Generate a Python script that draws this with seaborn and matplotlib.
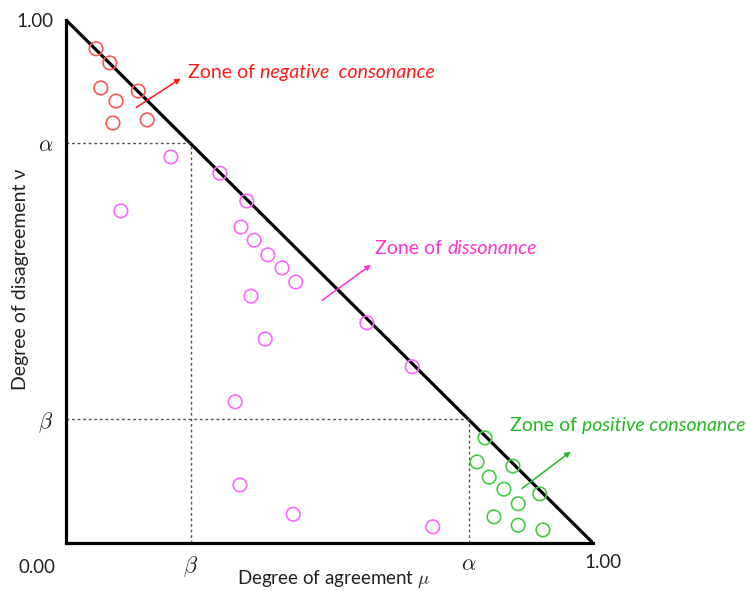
import matplotlib.pyplot as plt
import matplotlib.transforms as mtransforms
import seaborn as sns
import pandas as pd

plt.switch_backend("agg")

# thresholds
alpha = 0.765
beta = 0.237

# points (agreement mu, disagreement nu)
neg_mu = [0.057, 0.083, 0.066, 0.095, 0.137, 0.089, 0.154]
neg_nu = [0.945, 0.918, 0.870, 0.845, 0.864, 0.803, 0.809]

dis_mu = [0.199, 0.292, 0.343, 0.332, 0.357, 0.383, 0.410, 0.436, 0.351,
          0.378, 0.571, 0.657, 0.321, 0.104, 0.330, 0.431, 0.696]
dis_nu = [0.738, 0.707, 0.654, 0.604, 0.579, 0.551, 0.526, 0.499, 0.472,
          0.390, 0.421, 0.337, 0.270, 0.635, 0.111, 0.055, 0.031]

pos_mu = [0.795, 0.780, 0.848, 0.803, 0.831, 0.899, 0.858, 0.812, 0.858, 0.905]
pos_nu = [0.201, 0.155, 0.147, 0.126, 0.103, 0.094, 0.075, 0.050, 0.034, 0.025]

zone_colors = {"neg": "#ff5555", "dis": "#ff66ff", "pos": "#44cc44"}
text_colors = {"neg": "#ff1a1a", "dis": "#ff33cc", "pos": "#22bb22"}

sns.set_theme(style="white")
plt.rcParams["font.family"] = ["Lato", "DejaVu Sans"]
plt.rcParams["mathtext.fontset"] = "cm"

fig = plt.figure(figsize=(7.46, 5.91), dpi=100)
ax = fig.add_axes([0.0885, 0.0812, 0.7064, 0.885])

# hypotenuse
sns.lineplot(x=[0, 1], y=[1, 0], color="black", linewidth=2.3, ax=ax)

# threshold guides
dash = dict(color="#555555", linewidth=1.0, linestyle=(0, (2, 2)))
ax.plot([0, 1 - alpha], [alpha, alpha], **dash)
ax.plot([beta, beta], [0, alpha], **dash)
ax.plot([0, alpha], [beta, beta], **dash)
ax.plot([alpha, alpha], [0, beta], **dash)

for key, mu, nu in [("neg", neg_mu, neg_nu), ("dis", dis_mu, dis_nu), ("pos", pos_mu, pos_nu)]:
    df = pd.DataFrame({"mu": mu, "nu": nu})
    sns.scatterplot(data=df, x="mu", y="nu", ax=ax, s=95, marker="o",
                    facecolor="none", edgecolor=zone_colors[key],
                    linewidth=1.2, clip_on=False, zorder=3)


def zone_label(x, y, italic_part, color):
    t = ax.text(x, y, "Zone of ", color=color, fontsize=14, va="baseline", clip_on=False)
    ax.annotate(italic_part, xy=(1, 0), xycoords=t, va="bottom", ha="left",
                color=color, fontsize=14, style="italic", annotation_clip=False)


# zone annotations
ax.annotate("", xy=(0.222, 0.891), xytext=(0.129, 0.830),
            arrowprops=dict(arrowstyle="-|>", color=text_colors["neg"], lw=1.1, mutation_scale=8))
zone_label(0.231, 0.890, "negative  consonance", text_colors["neg"])

ax.annotate("", xy=(0.583, 0.535), xytext=(0.482, 0.461),
            arrowprops=dict(arrowstyle="-|>", color=text_colors["dis"], lw=1.1, mutation_scale=8))
zone_label(0.587, 0.552, "dissonance", text_colors["dis"])

ax.annotate("", xy=(0.962, 0.178), xytext=(0.861, 0.101),
            arrowprops=dict(arrowstyle="-|>", color=text_colors["pos"], lw=1.1, mutation_scale=8),
            annotation_clip=False)
zone_label(0.843, 0.214, "positive consonance", text_colors["pos"])

ax.set_xlim(0, 1)
ax.set_ylim(0, 1)
sns.despine(ax=ax)
for side in ["left", "bottom"]:
    ax.spines[side].set_linewidth(2.3)
    ax.spines[side].set_color("black")

ax.set_xticks([beta, alpha, 1.0])
ax.set_xticklabels([r"$\beta$", r"$\alpha$", "1.00"])
ax.set_yticks([beta, alpha, 1.0])
ax.set_yticklabels([r"$\beta$", r"$\alpha$", "1.00"])
ax.tick_params(length=0, labelsize=13.5, colors="#222222")
ax.tick_params(axis="x", pad=8)
ax.tick_params(axis="y", pad=9)
for lab in ax.get_xticklabels()[:2] + ax.get_yticklabels()[:2]:
    lab.set_fontsize(16)
shift = mtransforms.ScaledTranslation(10 / 100, 0, fig.dpi_scale_trans)
last = ax.get_xticklabels()[-1]
last.set_transform(last.get_transform() + shift)

ax.text(-0.055, -0.046, "0.00", fontsize=13.5, color="#222222", ha="center", va="center",
        clip_on=False)

ax.set_xlabel("Degree of agreement $\\mu$", fontsize=13.5, color="#222222", va="center")
ax.xaxis.set_label_coords(0.507, -0.069)
ax.set_ylabel("Degree of disagreement ν", fontsize=14, color="#222222", va="center")
ax.yaxis.set_label_coords(-0.087, 0.505)
ax.set_facecolor("white")

fig.savefig("out.png", dpi=100)
plt.close()
